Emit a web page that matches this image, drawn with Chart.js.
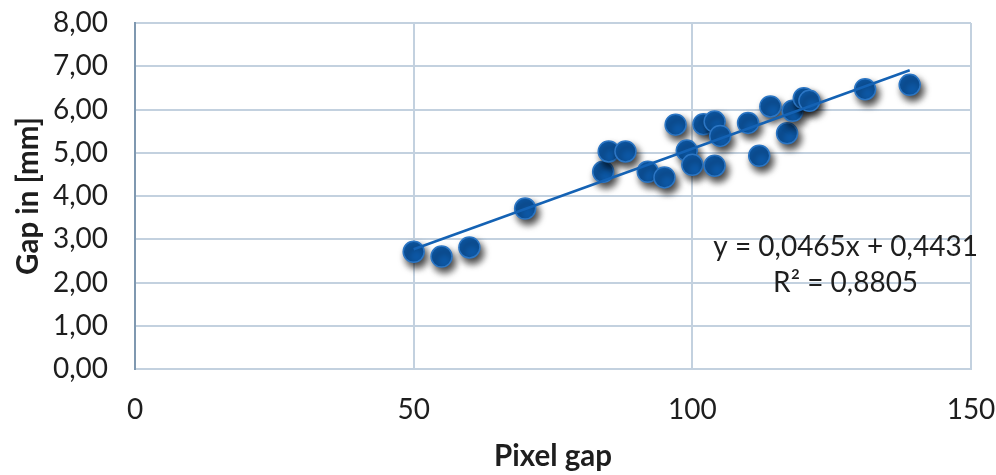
<!DOCTYPE html>
<html>
<head>
<meta charset="utf-8">
<script src="https://cdn.jsdelivr.net/npm/chart.js@4/dist/chart.umd.min.js"></script>
<style>
  html, body { margin: 0; padding: 0; background: #ffffff; }
  #wrap { width: 996px; height: 475px; position: relative; }
</style>
</head>
<body>
<div id="wrap"><canvas id="chart" width="996" height="475"></canvas></div>
<script>
// Measured pixel gap vs. physical gap
const pixelGap = [50, 55, 60, 70, 84, 85, 88, 92, 95, 97, 99, 100, 102, 104, 104, 105, 110, 112, 114, 117, 118, 120, 121, 131, 139];
const gapMm    = [2.71, 2.60, 2.81, 3.71, 4.56, 5.03, 5.03, 4.56, 4.43, 5.65, 5.05, 4.72, 5.66, 5.72, 4.70, 5.39, 5.69, 4.93, 6.07, 5.45, 5.97, 6.26, 6.20, 6.47, 6.57];

// Linear fit as reported on the chart
const slope = 0.0465;
const intercept = 0.4431;
const rSquared = 0.8805;

const xTicks = [0, 50, 100, 150];
const yTicks = [0, 1, 2, 3, 4, 5, 6, 7, 8];

const fmt = (v, d) => v.toFixed(d).replace('.', ',');

const points = pixelGap.map((x, i) => ({ x: x, y: gapMm[i] }));
const xMin = Math.min(...pixelGap), xMax = Math.max(...pixelGap);
const fitLine = [
  { x: xMin, y: slope * xMin + intercept },
  { x: xMax, y: slope * xMax + intercept }
];

const gridColor = '#c3d1df';
const textColor = '#1e1e1e';
const family = 'Lato, "Open Sans", sans-serif';

// Drop shadow under the markers
const markerShadow = {
  id: 'markerShadow',
  beforeDatasetDraw(chart, args) {
    if (args.index !== 1) return;
    const ctx = chart.ctx;
    ctx.save();
    ctx.shadowColor = 'rgba(0,0,0,0.75)';
    ctx.shadowBlur = 7;
    ctx.shadowOffsetX = 3;
    ctx.shadowOffsetY = 5;
  },
  afterDatasetDraw(chart, args) {
    if (args.index !== 1) return;
    chart.ctx.restore();
  }
};

// Regression equation label
const equationLabel = {
  id: 'equationLabel',
  afterDatasetsDraw(chart) {
    const ctx = chart.ctx;
    const xs = chart.scales.x, ys = chart.scales.y;
    const cx = xs.getPixelForValue(127.5);
    ctx.save();
    ctx.fillStyle = textColor;
    ctx.font = '28px ' + family;
    ctx.textAlign = 'center';
    ctx.textBaseline = 'middle';
    ctx.fillText('y = ' + fmt(slope, 4) + 'x + ' + fmt(intercept, 4), cx, ys.getPixelForValue(2.83));
    ctx.fillText('R² = ' + fmt(rSquared, 4), cx, ys.getPixelForValue(2.0));
    ctx.restore();
  }
};

new Chart(document.getElementById('chart'), {
  type: 'scatter',
  data: {
    datasets: [
      {
        type: 'line',
        label: 'Linear fit',
        data: fitLine,
        borderColor: '#1462b4',
        borderWidth: 2.5,
        pointRadius: 0,
        fill: false,
        tension: 0
      },
      {
        label: 'Gap',
        data: points,
        backgroundColor: '#0d58a6',
        borderColor: '#2c76c4',
        borderWidth: 1.5,
        pointRadius: 10.5,
        pointHoverRadius: 10.5
      }
    ]
  },
  options: {
    responsive: false,
    animation: false,
    events: [],
    layout: { padding: 0 },
    plugins: {
      legend: { display: false },
      tooltip: { enabled: false }
    },
    scales: {
      x: {
        type: 'linear',
        min: 0,
        max: 150,
        afterBuildTicks(scale) { scale.ticks = xTicks.map(v => ({ value: v })); },
        afterFit(scale) {
          scale.height = 106;
          scale.paddingLeft = 0;
          scale.paddingRight = 25;
        },
        ticks: {
          color: textColor,
          font: { family: family, size: 28 },
          padding: 24
        },
        grid: { color: gridColor, lineWidth: 2, drawTicks: false },
        border: { color: gridColor, width: 2 },
        title: {
          display: true,
          text: 'Pixel gap',
          color: textColor,
          font: { family: family, size: 29.5, weight: 'bold' },
          padding: { top: 0, bottom: 1 }
        }
      },
      y: {
        type: 'linear',
        min: 0,
        max: 8,
        afterBuildTicks(scale) { scale.ticks = yTicks.map(v => ({ value: v })); },
        afterFit(scale) {
          scale.width = 135;
          scale.paddingTop = 23;
          scale.paddingBottom = 0;
        },
        ticks: {
          color: textColor,
          font: { family: family, size: 28 },
          padding: 27,
          callback: v => fmt(v, 2)
        },
        grid: { color: gridColor, lineWidth: 2, drawTicks: false },
        border: { color: '#7f98b0', width: 2 },
        title: {
          display: true,
          text: 'Gap in [mm]',
          color: textColor,
          font: { family: family, size: 29.5, weight: 'bold' },
          padding: { top: 11, bottom: 0 }
        }
      }
    }
  },
  plugins: [markerShadow, equationLabel]
});
</script>
</body>
</html>
